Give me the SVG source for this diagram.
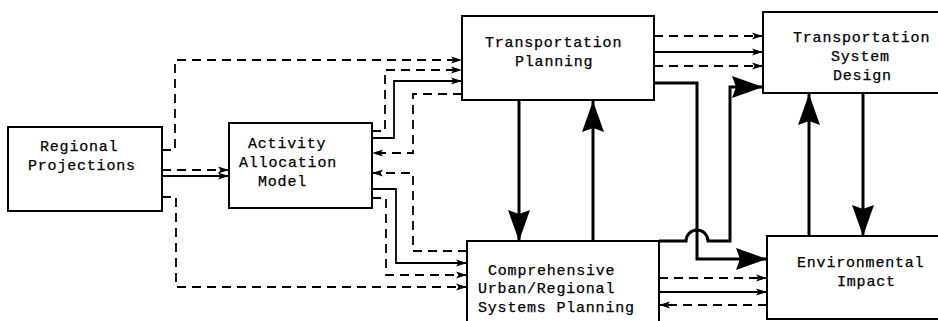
<svg xmlns="http://www.w3.org/2000/svg" width="938" height="321" viewBox="0 0 938 321">
<style>
.box{fill:#fff;stroke:#000;stroke-width:2}
.t{font-family:"Liberation Mono","DejaVu Sans Mono",monospace;font-size:15px;letter-spacing:0.8px;fill:#000;stroke:#000;stroke-width:0.25}
.d{fill:none;stroke:#000;stroke-width:1.8;stroke-dasharray:9 6;marker-end:url(#sa)}
.s{fill:none;stroke:#000;stroke-width:1.8;marker-end:url(#sa)}
.k{fill:none;stroke:#000;stroke-width:3;marker-end:url(#ba)}
</style>
<defs>
<marker id="sa" markerUnits="userSpaceOnUse" markerWidth="12" markerHeight="8" refX="11" refY="4" orient="auto">
<path d="M0,0.5 L11,4 L0,7.5 L2.5,4 z" fill="#000"/>
</marker>
<marker id="ba" markerUnits="userSpaceOnUse" markerWidth="32" markerHeight="24" refX="31" refY="12" orient="auto">
<path d="M0,1 L31,12 L0,23 L4,12 z" fill="#000"/>
</marker>
</defs>
<g id="connectors">
<path class="d" d="M162,150 H175 V60 H462"/>
<path class="d" d="M372,131 H385 V70 H462"/>
<path class="s" d="M372,138 H394 V81 H462"/>
<path class="d" d="M462,94 H413 V153 H372"/>
<path class="d" d="M467,251 H413 V173 H372"/>
<path class="s" d="M372,189 H396 V263 H467"/>
<path class="d" d="M372,198 H386 V275 H467"/>
<path class="d" d="M162,197 H176 V287 H467"/>
<path class="d" d="M162,170 H229"/>
<path class="s" d="M162,176 H229"/>
<path class="d" d="M654,36 H763"/>
<path class="s" d="M654,52 H763"/>
<path class="d" d="M654,66 H763"/>
<path class="k" d="M654,83 H697 V259 H767"/>
<path class="k" d="M659,241 H686 A11,11 0 0 1 708,241 H730 V87 H763"/>
<path class="k" d="M519,100 V241"/>
<path class="k" d="M593,241 V101"/>
<path class="k" d="M809,236 V94"/>
<path class="k" d="M863,93 V236"/>
<path class="d" d="M659,278 H767"/>
<path class="s" d="M659,292 H767"/>
<path class="d" d="M767,305 H659"/>
</g>
<g id="regional-projections">
<rect class="box" x="8" y="127" width="154" height="84"/>
<text class="t" x="40" y="151">Regional</text>
<text class="t" x="28" y="170">Projections</text>
</g>
<g id="activity-allocation-model">
<rect class="box" x="229" y="123" width="143" height="85"/>
<text class="t" x="248" y="148">Activity</text>
<text class="t" x="239" y="167">Allocation</text>
<text class="t" x="258" y="186">Model</text>
</g>
<g id="transportation-planning">
<rect class="box" x="462" y="16" width="192" height="84"/>
<text class="t" x="485" y="47">Transportation</text>
<text class="t" x="515" y="66">Planning</text>
</g>
<g id="transportation-system-design">
<rect class="box" x="763" y="12" width="190" height="81"/>
<text class="t" x="793" y="42">Transportation</text>
<text class="t" x="831" y="61">System</text>
<text class="t" x="833" y="80">Design</text>
</g>
<g id="comprehensive-planning">
<rect class="box" x="467" y="241" width="192" height="95"/>
<text class="t" x="488" y="275">Comprehensive</text>
<text class="t" x="478" y="293">Urban/Regional</text>
<text class="t" x="478" y="312">Systems Planning</text>
</g>
<g id="environmental-impact">
<rect class="box" x="767" y="236" width="186" height="83"/>
<text class="t" x="797" y="267">Environmental</text>
<text class="t" x="837" y="286">Impact</text>
</g>
</svg>
